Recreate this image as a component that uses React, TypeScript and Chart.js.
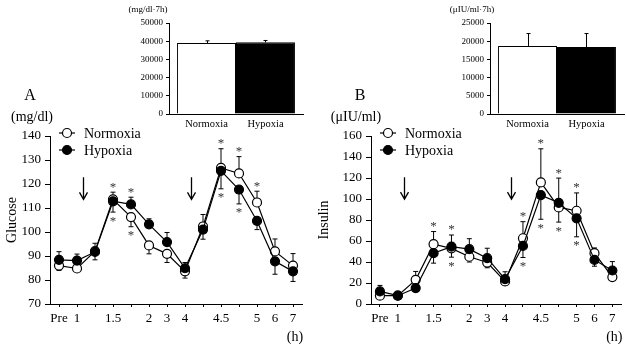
import { useEffect, useRef } from "react";
import { Chart, registerables } from "chart.js";

Chart.register(...registerables);

const SERIF = '"Liberation Serif", "Times New Roman", Times, serif';

// Sampling points (h); blank entries are unlabelled intermediate samples
const timeLabels = ["Pre", "1", "", "1.5", "", "2", "3", "4", "", "4.5", "", "5", "6", "7"];
const groupLabels = ["Normoxia", "Hypoxia"];

// Plasma glucose (mg/dl), mean and SE
const glucoseNormoxia = [86, 84.8, 92, 113.6, 106.2, 94.4, 90.9, 83.6, 102.3, 126.7, 124.4, 112.3, 91.9, 86];
const glucoseHypoxia = [88.4, 88.1, 91.7, 112.8, 111.5, 103.2, 95.8, 84.9, 101, 125.5, 117.7, 104.6, 87.8, 83.6];
const glucoseNormoxiaSE = [2, 1, 3.3, 3, 4, 3.5, 3.6, 2.8, 5, 8, 7, 4.7, 5.2, 5];
const glucoseHypoxiaSE = [3.4, 2.7, 3.3, 4.5, 3, 2.3, 4, 2.4, 4, 7.5, 6, 3.6, 5.4, 4.2];
const glucoseStarsAbove = [3, 4, 9, 10, 11];
const glucoseStarsBelow = [3, 4, 9, 10];

// Plasma insulin (µIU/ml), mean and SE
const insulinNormoxia = [7.9, 8, 23, 57, 53, 45, 39.5, 21.5, 62.6, 115.8, 92, 88.8, 48.4, 25.6];
const insulinHypoxia = [12, 7.9, 15.2, 48.4, 54.7, 52.2, 43.6, 23.7, 55.3, 103.7, 96.4, 81.6, 42, 31.9];
const insulinNormoxiaSE = [3, 2, 8, 12, 8.4, 5, 5, 3.5, 15.8, 32, 14, 17, 5, 3];
const insulinHypoxiaSE = [5.7, 2, 3, 9.5, 11, 10, 9.5, 7, 11, 23, 23.5, 17.6, 6, 8.5];
const insulinStarsAbove = [3, 4, 8, 9, 10, 11];
const insulinStarsBelow = [4, 8, 9, 10, 11];

// Meal arrows, on the sampling axis, and their vertical span in axis units
const arrowPositions = [1.33, 7.33];
const glucoseArrowSpan = [122.8, 113.6];
const insulinArrowSpan = [120.8, 99.9];

// Area under the curve over 7 h
const glucoseAUC = [39000, 39400];
const glucoseAUCSE = [1200, 1000];
const insulinAUC = [18700, 18400];
const insulinAUCSE = [3400, 3700];

type CourseProps = {
  left: number; top: number; width: number; height: number;
  axisWidth: number; padTop: number; padRight: number; xAxisHeight: number;
  normoxia: number[]; hypoxia: number[]; normoxiaSE: number[]; hypoxiaSE: number[];
  starsAbove: number[]; starsBelow: number[]; arrowSpan: number[];
  yMin: number; yMax: number; yStep: number;
  yTitle: string; titleX: number;
  letter: string; letterX: number; unit: string; unitX: number;
};

function TimeCourse(p: CourseProps) {
  const ref = useRef<HTMLCanvasElement | null>(null);
  useEffect(() => {
    const canvas = ref.current;
    if (!canvas) return;
    const series = [
      { v: p.normoxia, se: p.normoxiaSE, other: p.hypoxia, first: true },
      { v: p.hypoxia, se: p.hypoxiaSE, other: p.normoxia, first: false },
    ];
    // the upper series gets its bar upward, the lower one downward
    const isUp = (s: any, i: number) => (s.first ? s.v[i] >= s.other[i] : s.v[i] > s.other[i]);
    const barEnd = (s: any, i: number) => (isUp(s, i) ? s.v[i] + s.se[i] : s.v[i] - s.se[i]);

    const overlay = {
      id: "overlay",
      beforeDatasetsDraw(chart: any) {
        const { ctx, scales: { x, y } } = chart;
        ctx.save();
        ctx.strokeStyle = "#000";
        ctx.lineWidth = 1;
        for (let i = 0; i < timeLabels.length; i++) {
          series.forEach((s) => {
            const px = x.getPixelForValue(i);
            const p0 = y.getPixelForValue(s.v[i]);
            const p1 = y.getPixelForValue(barEnd(s, i));
            ctx.beginPath();
            ctx.moveTo(px, p0);
            ctx.lineTo(px, p1);
            ctx.moveTo(px - 2.5, p1);
            ctx.lineTo(px + 2.5, p1);
            ctx.stroke();
          });
        }
        ctx.restore();
      },
      afterDatasetsDraw(chart: any) {
        const { ctx, chartArea: area, scales: { x, y } } = chart;
        ctx.save();
        // significance marks
        ctx.fillStyle = "#333";
        ctx.font = `13px ${SERIF}`;
        ctx.textAlign = "center";
        ctx.textBaseline = "middle";
        p.starsAbove.forEach((i) => {
          const top = Math.max(...series.map((s) => Math.max(s.v[i], barEnd(s, i))));
          const px = x.getPixelForValue(i);
          ctx.fillText("*", px, y.getPixelForValue(top) - 7 + 2);
        });
        p.starsBelow.forEach((i) => {
          const bottom = Math.min(...series.map((s) => Math.min(s.v[i], barEnd(s, i))));
          const px = x.getPixelForValue(i);
          ctx.fillText("*", px, y.getPixelForValue(bottom) + 7 + 2);
        });
        // arrows
        ctx.strokeStyle = "#000";
        ctx.lineWidth = 1.3;
        arrowPositions.forEach((a) => {
          const px = Math.round(x.getPixelForValue(a)) + 0.5;
          const y1 = y.getPixelForValue(p.arrowSpan[0]);
          const y2 = y.getPixelForValue(p.arrowSpan[1]);
          ctx.beginPath();
          ctx.moveTo(px, y1);
          ctx.lineTo(px, y2);
          ctx.moveTo(px - 4, y2 - 7);
          ctx.lineTo(px, y2);
          ctx.lineTo(px + 4, y2 - 7);
          ctx.stroke();
        });
        // legend
        const fills = ["#fff", "#000"];
        const rowDy = [-3, 14];
        groupLabels.forEach((label, k) => {
          const cy = area.top + rowDy[k];
          const cx = area.left + 17;
          ctx.strokeStyle = "#000";
          ctx.lineWidth = 1.2;
          ctx.beginPath();
          ctx.moveTo(cx - 8, cy);
          ctx.lineTo(cx + 8, cy);
          ctx.stroke();
          ctx.beginPath();
          ctx.arc(cx, cy, 4.5, 0, Math.PI * 2);
          ctx.fillStyle = fills[k];
          ctx.fill();
          ctx.stroke();
          ctx.fillStyle = "#000";
          ctx.font = `14px ${SERIF}`;
          ctx.textAlign = "left";
          ctx.textBaseline = "middle";
          ctx.fillText(label, area.left + 34, cy + 1);
        });
        // panel letter, units, axis titles
        ctx.fillStyle = "#000";
        ctx.textAlign = "center";
        ctx.textBaseline = "middle";
        ctx.font = `16px ${SERIF}`;
        ctx.fillText(p.letter, p.letterX - p.left, 96 - p.top);
        ctx.font = `14px ${SERIF}`;
        ctx.fillText(p.unit, p.unitX - p.left, 117 - p.top);
        ctx.fillText("(h)", area.right - 7, 337 - p.top);
        ctx.save();
        ctx.translate(p.titleX - p.left, (area.top + area.bottom) / 2);
        ctx.rotate(-Math.PI / 2);
        ctx.font = `14px ${SERIF}`;
        ctx.fillText(p.yTitle, 0, 0);
        ctx.restore();
        ctx.restore();
      },
    };

    const chart = new Chart(canvas, {
      type: "line",
      data: {
        labels: timeLabels,
        datasets: [
          {
            label: groupLabels[0],
            data: p.normoxia,
            borderColor: "#000",
            borderWidth: 1.2,
            pointRadius: 4.5,
            pointBorderWidth: 1.2,
            pointBackgroundColor: "#fff",
            pointBorderColor: "#000",
            tension: 0,
            order: 1,
          },
          {
            label: groupLabels[1],
            data: p.hypoxia,
            borderColor: "#000",
            borderWidth: 1.2,
            pointRadius: 4.5,
            pointBorderWidth: 1.2,
            pointBackgroundColor: "#000",
            pointBorderColor: "#000",
            tension: 0,
            order: 0,
          },
        ],
      },
      options: {
        responsive: false,
        animation: false,
        layout: { padding: { top: p.padTop, right: p.padRight, left: 0, bottom: 0 } },
        plugins: { legend: { display: false }, tooltip: { enabled: false } },
        scales: {
          x: {
            offset: true,
            grid: { offset: false, drawOnChartArea: false, color: "#000", tickLength: 3 },
            border: { color: "#000", width: 1 },
            ticks: {
              autoSkip: false,
              maxRotation: 0,
              color: "#000",
              padding: 4,
              font: { family: SERIF, size: 13 },
            },
            afterFit: (s: any) => {
              s.height = p.xAxisHeight;
            },
          },
          y: {
            min: p.yMin,
            max: p.yMax,
            grid: { drawOnChartArea: false, color: "#000", tickLength: 5 },
            border: { color: "#000", width: 1 },
            ticks: {
              stepSize: p.yStep,
              color: "#000",
              padding: 4,
              font: { family: SERIF, size: 13 },
            },
            afterFit: (s: any) => {
              s.width = p.axisWidth;
            },
          },
        },
      },
      plugins: [overlay],
    } as any);
    return () => chart.destroy();
  }, []);
  return (
    <canvas
      ref={ref}
      width={p.width}
      height={p.height}
      style={{ position: "absolute", left: p.left, top: p.top, width: p.width, height: p.height }}
    />
  );
}

type InsetProps = {
  left: number; top: number; width: number; height: number;
  axisWidth: number; padTop: number; padRight: number; xAxisHeight: number;
  values: number[]; se: number[]; yMax: number; yStep: number;
  unit: string; unitX: number;
};

function AucInset(p: InsetProps) {
  const ref = useRef<HTMLCanvasElement | null>(null);
  useEffect(() => {
    const canvas = ref.current;
    if (!canvas) return;
    const overlay = {
      id: "aucOverlay",
      afterDatasetsDraw(chart: any) {
        const { ctx, scales: { y } } = chart;
        ctx.save();
        ctx.strokeStyle = "#000";
        ctx.lineWidth = 1;
        ctx.fillStyle = "#000";
        groupLabels.forEach((label, k) => {
          const el = chart.getDatasetMeta(k).data[0];
          const px = Math.round(el.x) + 0.5;
          const end = y.getPixelForValue(p.values[k] + p.se[k]);
          ctx.beginPath();
          ctx.moveTo(px, el.y);
          ctx.lineTo(px, end);
          ctx.moveTo(px - 2, end);
          ctx.lineTo(px + 2, end);
          ctx.stroke();
          ctx.font = `10.5px ${SERIF}`;
          ctx.textAlign = "center";
          ctx.textBaseline = "middle";
          ctx.fillText(label, el.x, 124.5 - p.top);
        });
        ctx.font = `9px ${SERIF}`;
        ctx.textAlign = "center";
        ctx.textBaseline = "middle";
        ctx.fillText(p.unit, p.unitX - p.left, 10 - p.top);
        ctx.restore();
      },
    };
    const chart = new Chart(canvas, {
      type: "bar",
      data: {
        labels: [""],
        datasets: groupLabels.map((label, k) => ({
          label,
          data: [p.values[k]],
          backgroundColor: k === 0 ? "#fff" : "#000",
          borderColor: "#000",
          borderWidth: 1,
          barPercentage: 1,
          categoryPercentage: 0.88,
        })),
      },
      options: {
        responsive: false,
        animation: false,
        layout: { padding: { top: p.padTop, right: p.padRight, left: 0, bottom: 0 } },
        plugins: { legend: { display: false }, tooltip: { enabled: false } },
        scales: {
          x: {
            grid: { display: false },
            border: { display: true, color: "#000", width: 1 },
            ticks: { display: false },
            afterFit: (s: any) => {
              s.height = p.xAxisHeight;
            },
          },
          y: {
            min: 0,
            max: p.yMax,
            grid: { drawOnChartArea: false, color: "#000", tickLength: 3 },
            border: { color: "#000", width: 1 },
            ticks: {
              stepSize: p.yStep,
              color: "#000",
              padding: 3,
              font: { family: SERIF, size: 9 },
              callback: (v: any) => String(v),
            },
            afterFit: (s: any) => {
              s.width = p.axisWidth;
            },
          },
        },
      },
      plugins: [overlay],
    } as any);
    return () => chart.destroy();
  }, []);
  return (
    <canvas
      ref={ref}
      width={p.width}
      height={p.height}
      style={{ position: "absolute", left: p.left, top: p.top, width: p.width, height: p.height }}
    />
  );
}

export default function App() {
  return (
    <div style={{ position: "absolute", left: 0, top: 0, width: 627, height: 344, background: "#fff" }}>
      <TimeCourse
        left={0} top={80} width={310} height={264}
        axisWidth={50} padTop={56} padRight={8} xAxisHeight={40}
        normoxia={glucoseNormoxia} hypoxia={glucoseHypoxia}
        normoxiaSE={glucoseNormoxiaSE} hypoxiaSE={glucoseHypoxiaSE}
        starsAbove={glucoseStarsAbove} starsBelow={glucoseStarsBelow}
        arrowSpan={glucoseArrowSpan}
        yMin={70} yMax={140} yStep={10}
        yTitle="Glucose" titleX={12}
        letter="A" letterX={30} unit="(mg/dl)" unitX={32}
      />
      <TimeCourse
        left={310} top={80} width={317} height={264}
        axisWidth={61} padTop={56} padRight={4} xAxisHeight={40}
        normoxia={insulinNormoxia} hypoxia={insulinHypoxia}
        normoxiaSE={insulinNormoxiaSE} hypoxiaSE={insulinHypoxiaSE}
        starsAbove={insulinStarsAbove} starsBelow={insulinStarsBelow}
        arrowSpan={insulinArrowSpan}
        yMin={0} yMax={160} yStep={20}
        yTitle="Insulin" titleX={324.5}
        letter="B" letterX={360} unit="(μIU/ml)" unitX={356}
      />
      <AucInset
        left={110} top={0} width={200} height={140}
        axisWidth={59} padTop={23} padRight={7} xAxisHeight={26}
        values={glucoseAUC} se={glucoseAUCSE} yMax={50000} yStep={10000}
        unit="(mg/dl·7h)" unitX={148}
      />
      <AucInset
        left={431} top={0} width={196} height={140}
        axisWidth={59} padTop={23} padRight={3} xAxisHeight={26}
        values={insulinAUC} se={insulinAUCSE} yMax={25000} yStep={5000}
        unit="(μIU/ml·7h)" unitX={472}
      />
    </div>
  );
}
